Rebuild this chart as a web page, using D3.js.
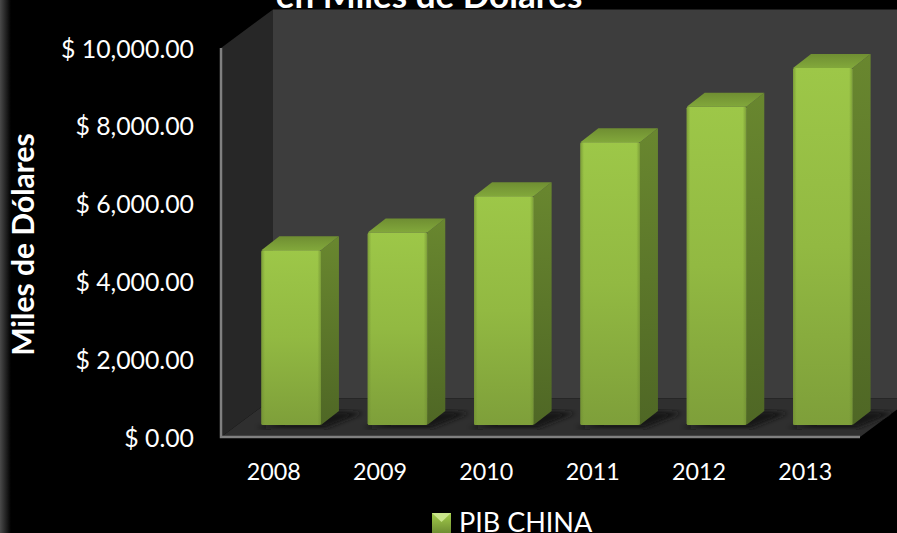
<!DOCTYPE html>
<html><head><meta charset="utf-8">
<script src="https://d3js.org/d3.v7.min.js"></script>
<style>html,body{margin:0;padding:0;background:#000}svg{display:block}text{font-family:Lato,"Open Sans",sans-serif;fill:#fff}</style>
</head><body><svg id="c" width="897" height="533"></svg>
<script>
const categories=["2008","2009","2010","2011","2012","2013"];
const values=[4490,4950,5880,7270,8180,9180];
const yTicks=[0,2000,4000,6000,8000,10000];
const seriesName="PIB CHINA";
const titleLine="en Miles de Dólares";
const yTitle="Miles de Dólares";

const svg=d3.select("#c");
const W=897,H=533;
const pLeft=221,pRight=860,pBottom=437,pTop=48,dx=52,dy=38.5;
const barShift=17;
const y=d3.scaleLinear().domain([0,10000]).range([pBottom,pTop]);
const x=d3.scaleBand().domain(categories).range([pLeft+barShift,pRight-1+barShift]).paddingInner(0.44).paddingOuter(0.22);
const barOff=12, depthX=18, depthY=14;
const defs=svg.append("defs");
function lg(id,stops,dir){const g=defs.append("linearGradient").attr("id",id);
 if(dir==="h"){g.attr("x1",0).attr("x2",1).attr("y1",0).attr("y2",0);}else{g.attr("x1",0).attr("x2",0).attr("y1",0).attr("y2",1);}
 stops.forEach(s=>{const e=g.append("stop").attr("offset",s[0]).attr("stop-color",s[1]);if(s[2]!==undefined)e.attr("stop-opacity",s[2]);});}
lg("front",[[0,"#9dc748"],[0.5,"#92b942"],[1,"#7e9f3a"]]);
lg("side",[[0,"#69872f"],[1,"#4f6725"]]);
lg("topf",[[0,"#6f8e32"],[1,"#82a83b"]]);
lg("edge",[[0,"#6f8e32",0.7],[0.06,"#6f8e32",0],[0.94,"#6f8e32",0],[1,"#6f8e32",0.7]],"h");
lg("leg",[[0,"#a3cd4b"],[1,"#6f8e32"]]);
lg("fade",[[0,"#4a4a4a"],[1,"#000"]],"h");
defs.append("filter").attr("id","blur").append("feGaussianBlur").attr("stdDeviation",2.5);

svg.append("rect").attr("width",W).attr("height",H).attr("fill","#000");
svg.append("rect").attr("width",11).attr("height",H).attr("fill","url(#fade)");
// back wall
svg.append("rect").attr("x",pLeft+dx).attr("y",pTop-dy).attr("width",W-pLeft-dx).attr("height",pBottom-pTop).attr("fill","#3d3d3d");
// left wall
svg.append("path").attr("d",d3.line()([[pLeft,pTop],[pLeft+dx,pTop-dy],[pLeft+dx,pBottom-dy],[pLeft,pBottom]])).attr("fill","#272727");
// floor
svg.append("path").attr("d",d3.line()([[pLeft,pBottom],[pLeft+dx,pBottom-dy],[pRight+dx,pBottom-dy],[pRight,pBottom]])).attr("fill","#2f2f2f");
// axes lines
svg.append("path").attr("d",d3.line()([[pLeft,pTop],[pLeft,pBottom],[pRight,pBottom]])).attr("fill","none").attr("stroke","#808080").attr("stroke-width",2.5);
// bar shadows
const base=y(0)-barOff;
svg.append("g").selectAll("path").data(categories).join("path")
 .attr("d",c=>{const a=x(c),b=a+x.bandwidth();return d3.line()([[a-6,base+3],[b+4,base+3],[b+depthX+24,base-depthY+2],[b+depthX,base-depthY]])})
 .attr("fill","#141414").attr("filter","url(#blur)");
// bars
const bars=svg.append("g").selectAll("g").data(values).join("g");
const bx=(d,i)=>x(categories[i]);
const bw=x.bandwidth();
bars.append("path").attr("d",(d,i)=>{const a=bx(d,i)+bw,t=y(d)-barOff;return d3.line()([[a,t],[a+depthX,t-depthY],[a+depthX,base-depthY],[a,base]])}).attr("fill","url(#side)");
bars.append("path").attr("d",(d,i)=>{const a=bx(d,i),t=y(d)-barOff;return d3.line()([[a,t],[a+depthX,t-depthY],[a+bw+depthX,t-depthY],[a+bw,t]])}).attr("fill","url(#topf)");
bars.append("rect").attr("x",(d,i)=>bx(d,i)).attr("y",d=>y(d)-barOff).attr("width",bw).attr("height",d=>base-(y(d)-barOff)).attr("rx",1.5).attr("fill","url(#front)");
bars.append("rect").attr("x",(d,i)=>bx(d,i)).attr("y",d=>y(d)-barOff).attr("width",bw).attr("height",d=>base-(y(d)-barOff)).attr("rx",1.5).attr("fill","url(#edge)");
// y labels
const fmt=d3.format(",.2f");
svg.append("g").selectAll("text").data(yTicks).join("text")
 .attr("x",194).attr("y",d=>y(d)+9.5).attr("text-anchor","end").attr("font-size",24.8)
 .text(d=>"$ "+fmt(d));
// x labels
svg.append("g").selectAll("text").data(categories).join("text")
 .attr("x",c=>x(c)+bw/2-17.5).attr("y",480).attr("text-anchor","middle").attr("font-size",23.3).text(c=>c);
// title
svg.append("text").attr("x",429).attr("y",8).attr("text-anchor","middle").attr("font-size",35).attr("font-weight",700).text(titleLine);
svg.append("text").attr("transform","translate(34,244.5) rotate(-90)").attr("text-anchor","middle").attr("font-size",30).attr("font-weight",700).text(yTitle);
// legend
svg.append("rect").attr("x",432).attr("y",513).attr("width",19).attr("height",20).attr("fill","url(#leg)");
svg.append("path").attr("d",d3.line()([[432,513],[451,513],[441.5,522]])).attr("fill","#c9e58a");
svg.append("text").attr("x",459).attr("y",531.5).attr("font-size",27).text(seriesName);
</script></body></html>
